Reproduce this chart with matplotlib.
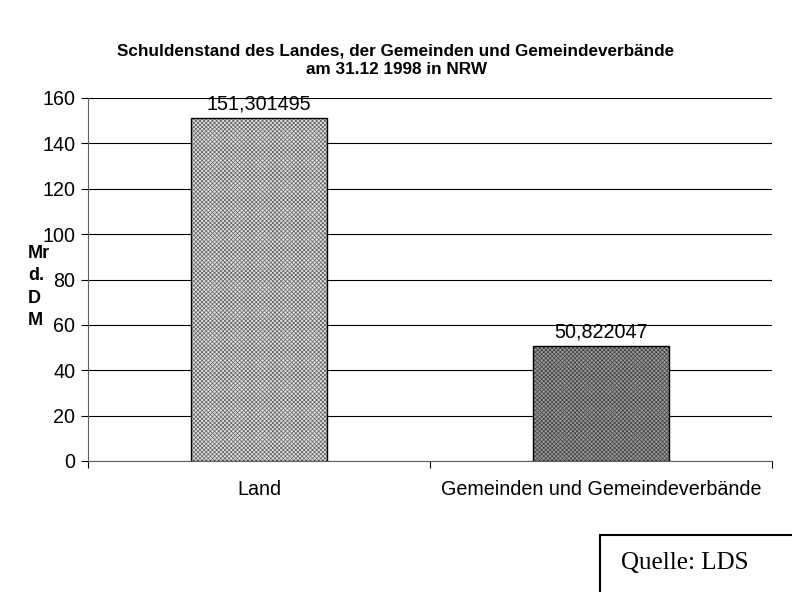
import matplotlib
matplotlib.use("Agg")
import matplotlib.pyplot as plt
from matplotlib.patches import Rectangle

categories = ["Land", "Gemeinden und Gemeindeverbände"]
values = [151.301495, 50.822047]
value_labels = ["151,301495", "50,822047"]
yticks = [0, 20, 40, 60, 80, 100, 120, 140, 160]

plt.rcParams['font.family'] = ['Liberation Sans', 'DejaVu Sans']
plt.rcParams['hatch.linewidth'] = 0.5

fig = plt.figure(figsize=(7.92, 5.92), dpi=100)
ax = fig.add_axes([88/792, 131/592, 684/792, 363/592])

faces = ["#e0e0e0", "#9a9a9a"]
hatchcols = ["#606060", "#404040"]
x = [0, 1]
for xi, v, fc, hc in zip(x, values, faces, hatchcols):
    ax.bar(xi, v, width=0.40, facecolor=fc, edgecolor=hc, hatch='xxxxxxxx', linewidth=0, zorder=3)
    ax.bar(xi, v, width=0.40, facecolor='none', edgecolor='black', linewidth=1.0, zorder=4)

fs = 14.2
for xi, v, lab in zip(x, values, value_labels):
    ax.text(xi, v + 1.8, lab, ha='center', va='bottom', fontsize=fs)

ax.set_xlim(-0.5, 1.5)
ax.set_ylim(0, 160)
ax.set_yticks(yticks)
ax.set_yticklabels([str(t) for t in yticks], fontsize=fs)
ax.set_xticks([-0.5, 0.5, 1.5])
ax.set_xticklabels([])
ax.set_xticks(x, minor=True)
ax.set_xticklabels(categories, minor=True, fontsize=fs)
ax.tick_params(axis='x', which='minor', length=0, pad=14)
ax.tick_params(axis='x', which='major', length=5, direction='out', color='black')
ax.tick_params(axis='y', length=5, direction='out', color='black', pad=4)
ax.yaxis.grid(True, color='black', linewidth=0.8, zorder=0)
ax.set_axisbelow(True)
for s in ['top', 'right']:
    ax.spines[s].set_visible(False)
ax.spines['left'].set_color('#606060')
ax.spines['bottom'].set_color('#606060')

fig.text(0.5, 1 - 60/592, "Schuldenstand des Landes, der Gemeinden und Gemeindeverbände\nam 31.12 1998 in NRW",
         ha='center', va='center', fontsize=12.3, fontweight='bold', linespacing=1.3)

fig.text(28/792, 1 - 287/592, "Mr\nd.\nD\nM", ha='left', va='center', fontsize=13, fontweight='bold', linespacing=1.4)

fig.patches.append(Rectangle((600/792, -0.05), 0.3, (592-535)/592 + 0.05, transform=fig.transFigure,
                             facecolor='white', edgecolor='black', linewidth=1.5))
fig.text(621/792, 1 - 563/592, "Quelle: LDS", ha='left', va='center', fontsize=18, family=['Liberation Serif', 'DejaVu Serif'])

fig.savefig("out.png", dpi=100)
